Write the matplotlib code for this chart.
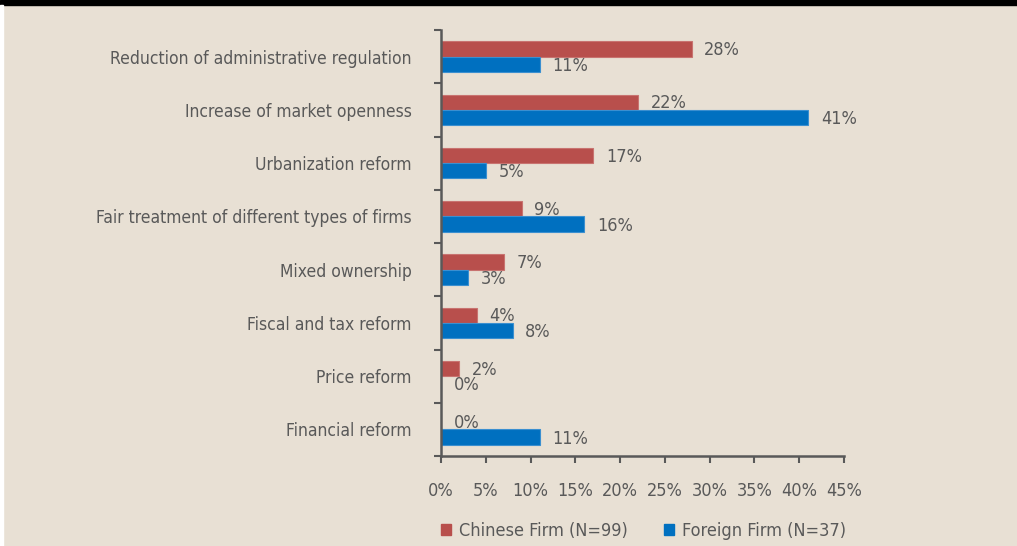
import matplotlib.pyplot as plt
import matplotlib.patches as mpatches
import numpy as np

categories = ["Reduction of administrative regulation",
              "Increase of market openness",
              "Urbanization reform",
              "Fair treatment of different types of firms",
              "Mixed ownership",
              "Fiscal and tax reform",
              "Price reform",
              "Financial reform"]
chinese = [28, 22, 17, 9, 7, 4, 2, 0]
foreign = [11, 41, 5, 16, 3, 8, 0, 11]
xticks = [0, 5, 10, 15, 20, 25, 30, 35, 40, 45]

bg = "#e8e0d4"
red = "#b84f4c"
blue = "#0070c0"
txt = "#595959"

plt.rcParams['font.family'] = ['DejaVu Sans']
plt.rcParams['font.stretch'] = 'condensed'

fig = plt.figure(figsize=(10.17, 5.46), dpi=100)
fig.patch.set_facecolor(bg)
W, H = 1017, 546
ax = fig.add_axes([441 / W, 1 - 456 / H, (844 - 441) / W, (456 - 30) / H])
ax.set_facecolor(bg)

# black band on top, thin white strip on left
fig.patches.append(mpatches.Rectangle((0, 1 - 5 / H), 1, 5 / H, transform=fig.transFigure,
                                      color="black", zorder=0))
fig.patches.append(mpatches.Rectangle((0, 0), 3 / W, 1 - 5 / H, transform=fig.transFigure,
                                      color="white", zorder=0))

n = len(categories)
y = np.arange(n)
h = 0.285
ax.barh(y - h / 2, chinese, height=h, color=red, edgecolor="#c87370", linewidth=0.8)
ax.barh(y + h / 2, foreign, height=h, color=blue, edgecolor="#3a8fd0", linewidth=0.8)

for i in range(n):
    ax.text(chinese[i] + 1.4, y[i] - h / 2 + 0.02, f"{chinese[i]}%", va="center", ha="left",
            fontsize=13, color=txt)
    ax.text(foreign[i] + 1.4, y[i] + h / 2 + 0.03, f"{foreign[i]}%", va="center", ha="left",
            fontsize=13, color=txt)

ax.set_ylim(n - 0.5, -0.5)
ax.set_xlim(0, 45)
ax.set_xticks(xticks)
ax.set_xticklabels([f"{v}%" for v in xticks], fontsize=13, color=txt)
ax.set_yticks(y)
ax.set_yticklabels(categories, fontsize=12.5, color=txt)
ax.set_yticks(np.arange(n + 1) - 0.5, minor=True)
ax.tick_params(axis="y", which="major", length=0, pad=21)
ax.tick_params(axis="y", which="minor", length=5, width=1.5, color=txt, direction="out")
ax.tick_params(axis="x", length=5, width=1.5, color=txt, direction="out", pad=14)

for s in ["top", "right"]:
    ax.spines[s].set_visible(False)
for s in ["left", "bottom"]:
    ax.spines[s].set_color(txt)
    ax.spines[s].set_linewidth(1.8)

handles = [mpatches.Patch(color=red, label="Chinese Firm (N=99)"),
           mpatches.Patch(color=blue, label="Foreign Firm (N=37)")]
fig.legend(handles=handles, loc="center left", bbox_to_anchor=(425 / W, 1 - 531 / H),
           ncol=2, frameon=False, fontsize=13, labelcolor=txt, handlelength=0.55,
           handleheight=0.55, handletextpad=0.45, columnspacing=2.0)

fig.savefig("out.png", dpi=100, facecolor=bg)
